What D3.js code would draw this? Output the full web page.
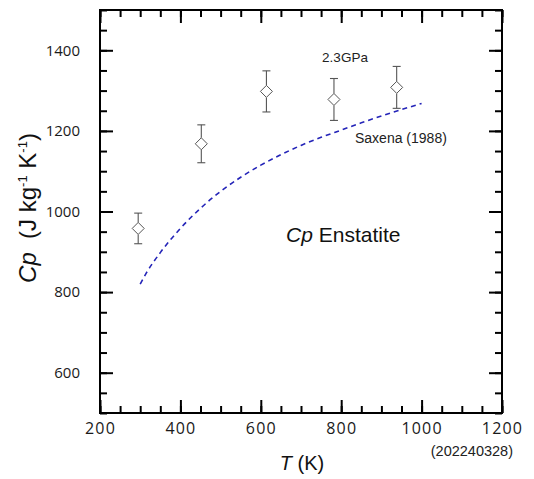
<!DOCTYPE html>
<html>
<head>
<meta charset="utf-8">
<script src="https://cdn.jsdelivr.net/npm/d3@7"></script>
<style>
  html, body { margin: 0; padding: 0; background: #fff; }
  svg { display: block; }
</style>
</head>
<body>
<svg id="chart" width="534" height="479"></svg>
<script>
// Measured heat capacity of enstatite at 2.3 GPa
const temps = [295, 452, 614, 782, 938];
const cpValues = [958, 1168, 1298, 1278, 1308];
const cpErrors = [38, 47, 51, 52, 52];

// Saxena (1988) reference curve
const saxenaT = [300, 315, 350, 400, 450, 500, 550, 600, 650, 700, 750, 800, 850, 900, 950, 1000];
const saxenaCp = [820, 847, 898, 958, 1008, 1050, 1085, 1115, 1141, 1164, 1184, 1202, 1220, 1237, 1253, 1268];

// Axis ticks
const xMajor = [200, 400, 600, 800, 1000, 1200];
const yMajor = [600, 800, 1000, 1200, 1400];
const xMinor = d3.range(200, 1201, 50);
const yMinor = d3.range(500, 1501, 50);

const svg = d3.select("#chart");
const plotL = 100, plotR = 502, plotT = 10, plotB = 413;

const x = d3.scaleLinear().domain([200, 1200]).range([plotL, plotR]);
const y = d3.scaleLinear().domain([500, 1500]).range([plotB, plotT]);

const majorLen = 13, minorLen = 7;
const tickFont = "'Open Sans', sans-serif";
const textFont = "'Liberation Sans', Arial, sans-serif";

function styleAxis(g) {
  g.select(".domain").remove();
  g.selectAll(".tick line").attr("stroke", "#000").attr("stroke-width", 2);
  g.selectAll(".tick text").attr("font-family", tickFont).attr("font-size", 15).attr("fill", "#1a1a1a");
}

// Minor ticks on all four sides (inward)
svg.append("g").attr("transform", `translate(0,${plotB})`)
  .call(d3.axisBottom(x).tickValues(xMinor).tickSize(-minorLen).tickFormat(""))
  .call(styleAxis);
svg.append("g").attr("transform", `translate(0,${plotT})`)
  .call(d3.axisTop(x).tickValues(xMinor).tickSize(-minorLen).tickFormat(""))
  .call(styleAxis);
svg.append("g").attr("transform", `translate(${plotL},0)`)
  .call(d3.axisLeft(y).tickValues(yMinor).tickSize(-minorLen).tickFormat(""))
  .call(styleAxis);
svg.append("g").attr("transform", `translate(${plotR},0)`)
  .call(d3.axisRight(y).tickValues(yMinor).tickSize(-minorLen).tickFormat(""))
  .call(styleAxis);

// Major ticks with labels
svg.append("g").attr("transform", `translate(0,${plotB})`)
  .call(d3.axisBottom(x).tickValues(xMajor).tickSize(-majorLen).tickPadding(10).tickFormat(d3.format("d")))
  .call(styleAxis)
  .call(g => g.selectAll(".tick text").attr("font-size", 16).attr("letter-spacing", 1.2));
svg.append("g").attr("transform", `translate(0,${plotT})`)
  .call(d3.axisTop(x).tickValues(xMajor).tickSize(-majorLen).tickFormat(""))
  .call(styleAxis);
svg.append("g").attr("transform", `translate(${plotL},0)`)
  .call(d3.axisLeft(y).tickValues(yMajor).tickSize(-majorLen).tickPadding(20).tickFormat(d3.format("d")))
  .call(styleAxis);
svg.append("g").attr("transform", `translate(${plotR},0)`)
  .call(d3.axisRight(y).tickValues(yMajor).tickSize(-majorLen).tickFormat(""))
  .call(styleAxis);

// Frame
svg.append("rect")
  .attr("x", plotL).attr("y", plotT)
  .attr("width", plotR - plotL).attr("height", plotB - plotT)
  .attr("fill", "none").attr("stroke", "#000").attr("stroke-width", 2);

// Saxena curve
const saxena = saxenaT.map((t, i) => [t, saxenaCp[i]]);
svg.append("path")
  .datum(saxena)
  .attr("fill", "none")
  .attr("stroke", "#2424b8")
  .attr("stroke-width", 1.6)
  .attr("stroke-dasharray", "5,4")
  .attr("d", d3.line().x(d => x(d[0])).y(d => y(d[1])).curve(d3.curveMonotoneX));

// Error bars
const pts = temps.map((t, i) => ({ t, cp: cpValues[i], e: cpErrors[i] }));
const eb = svg.append("g").attr("stroke", "#555").attr("stroke-width", 1.1);
const cap = 4;
pts.forEach(p => {
  const cx = x(p.t);
  eb.append("line").attr("x1", cx).attr("x2", cx).attr("y1", y(p.cp + p.e)).attr("y2", y(p.cp) - 6);
  eb.append("line").attr("x1", cx).attr("x2", cx).attr("y1", y(p.cp) + 6).attr("y2", y(p.cp - p.e));
  eb.append("line").attr("x1", cx - cap).attr("x2", cx + cap).attr("y1", y(p.cp + p.e)).attr("y2", y(p.cp + p.e));
  eb.append("line").attr("x1", cx - cap).attr("x2", cx + cap).attr("y1", y(p.cp - p.e)).attr("y2", y(p.cp - p.e));
});

// Diamond markers
svg.append("g").selectAll("path")
  .data(pts)
  .join("path")
  .attr("transform", d => `translate(${x(d.t)},${y(d.cp)})`)
  .attr("d", "M0,-6L6,0L0,6L-6,0Z")
  .attr("fill", "#fff")
  .attr("stroke", "#555")
  .attr("stroke-width", 1);

// Annotations
svg.append("text")
  .attr("x", 345).attr("y", 62)
  .attr("text-anchor", "middle")
  .attr("font-family", textFont).attr("font-size", 13.5).attr("fill", "#222")
  .text("2.3GPa");

svg.append("text")
  .attr("x", 355).attr("y", 143)
  .attr("font-family", textFont).attr("font-size", 14).attr("fill", "#222")
  .text("Saxena (1988)");

const title = svg.append("text")
  .attr("x", 286).attr("y", 242)
  .attr("font-family", textFont).attr("font-size", 21).attr("fill", "#111");
title.append("tspan").attr("font-style", "italic").text("Cp");
title.append("tspan").text(" Enstatite");

// Axis titles
const xt = svg.append("text")
  .attr("x", 302).attr("y", 470)
  .attr("text-anchor", "middle")
  .attr("font-family", textFont).attr("font-size", 20).attr("fill", "#111");
xt.append("tspan").attr("font-style", "italic").text("T");
xt.append("tspan").text(" (K)");

const yt = svg.append("text")
  .attr("transform", "translate(36,208) rotate(-90)")
  .attr("text-anchor", "middle")
  .attr("font-family", textFont).attr("font-size", 24).attr("fill", "#111");
yt.append("tspan").attr("font-style", "italic").text("Cp");
yt.append("tspan").text("\u00a0 (J kg");
yt.append("tspan").attr("font-size", 13).attr("dy", -9).text("-1");
yt.append("tspan").attr("dy", 9).text(" K");
yt.append("tspan").attr("font-size", 13).attr("dy", -9).text("-1");
yt.append("tspan").attr("dy", 9).text(")");

svg.append("text")
  .attr("x", 513).attr("y", 456)
  .attr("text-anchor", "end")
  .attr("font-family", textFont).attr("font-size", 14.5).attr("fill", "#222")
  .text("(202240328)");
</script>
</body>
</html>
